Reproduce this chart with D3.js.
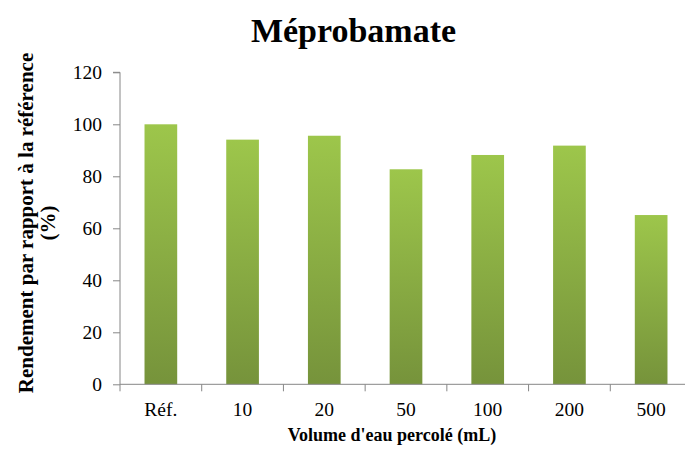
<!DOCTYPE html>
<html>
<head>
<meta charset="utf-8">
<script src="https://cdn.jsdelivr.net/npm/d3@7"></script>
<style>
  html, body { margin: 0; padding: 0; background: #fff; }
  svg { display: block; }
  text { font-family: "Liberation Serif", "Times New Roman", serif; }
</style>
</head>
<body>
<script>
const categories = ["Réf.", "10", "20", "50", "100", "200", "500"];
const values = [100, 94.1, 95.6, 82.7, 88.2, 91.8, 65.1];
const yTicks = [0, 20, 40, 60, 80, 100, 120];
const title = "Méprobamate";
const xTitle = "Volume d'eau percolé (mL)";
const yTitleLines = ["Rendement par rapport à la référence", "(%)"];

const W = 685, H = 449;
const m = { left: 120, top: 72.3, bottom: 384.3, right: 692 };

const svg = d3.select("body").append("svg").attr("width", W).attr("height", H);

const defs = svg.append("defs");
const grad = defs.append("linearGradient").attr("id", "barGrad")
  .attr("x1", 0).attr("y1", 0).attr("x2", 0).attr("y2", 1);
grad.append("stop").attr("offset", "0%").attr("stop-color", "#9dc64b");
grad.append("stop").attr("offset", "100%").attr("stop-color", "#76933b");

const x = d3.scaleBand().domain(categories).range([m.left, m.right])
  .paddingInner(0.6).paddingOuter(0.3);
const y = d3.scaleLinear().domain([0, 120]).range([m.bottom, m.top]);

// Title
svg.append("text").attr("x", 353.5).attr("y", 41.5).attr("text-anchor", "middle")
  .attr("font-size", 34).attr("font-weight", "bold").attr("fill", "#000").text(title);

// Bars
svg.append("g").selectAll("rect").data(categories).join("rect")
  .attr("x", d => x(d))
  .attr("width", x.bandwidth())
  .attr("y", (d, i) => y(values[i]))
  .attr("height", (d, i) => y(0) - y(values[i]))
  .attr("fill", "url(#barGrad)");

const axisColor = "#868686";
const tickFont = 19.5;

// Y axis
const yAxis = svg.append("g").attr("transform", `translate(${m.left},0)`)
  .call(d3.axisLeft(y).tickValues(yTicks).tickSize(7).tickPadding(11).tickFormat(d3.format("d")));
yAxis.select(".domain").attr("stroke", axisColor).attr("d", `M-7,${y(120)}H0V${y(0)}`);
yAxis.selectAll(".tick line").attr("stroke", axisColor);
yAxis.selectAll(".tick text").attr("font-size", tickFont).attr("fill", "#000")
  .attr("font-family", "'Liberation Serif', 'Times New Roman', serif");

// X axis baseline and ticks at band boundaries
const step = x.step();
const xg = svg.append("g");
xg.append("line").attr("x1", m.left).attr("x2", m.right)
  .attr("y1", y(0)).attr("y2", y(0)).attr("stroke", axisColor);
xg.selectAll("line.tk").data(d3.range(categories.length + 1)).join("line").attr("class", "tk")
  .attr("x1", i => m.left + i * step).attr("x2", i => m.left + i * step)
  .attr("y1", y(0)).attr("y2", y(0) + 7).attr("stroke", axisColor);
xg.selectAll("text").data(categories).join("text")
  .attr("x", d => x(d) + x.bandwidth() / 2)
  .attr("y", 415.5).attr("text-anchor", "middle")
  .attr("font-size", tickFont).attr("fill", "#000").text(d => d);

// X title
svg.append("text").attr("x", 392).attr("y", 441).attr("text-anchor", "middle")
  .attr("font-size", 18).attr("font-weight", "bold").attr("fill", "#000").text(xTitle);

// Y title
const yt = svg.append("text").attr("transform", "translate(33,223) rotate(-90)")
  .attr("text-anchor", "middle").attr("font-size", 21).attr("font-weight", "bold").attr("fill", "#000");
yTitleLines.forEach((t, i) => {
  yt.append("tspan").attr("x", 0).attr("y", i * 22).text(t);
});
</script>
</body>
</html>
